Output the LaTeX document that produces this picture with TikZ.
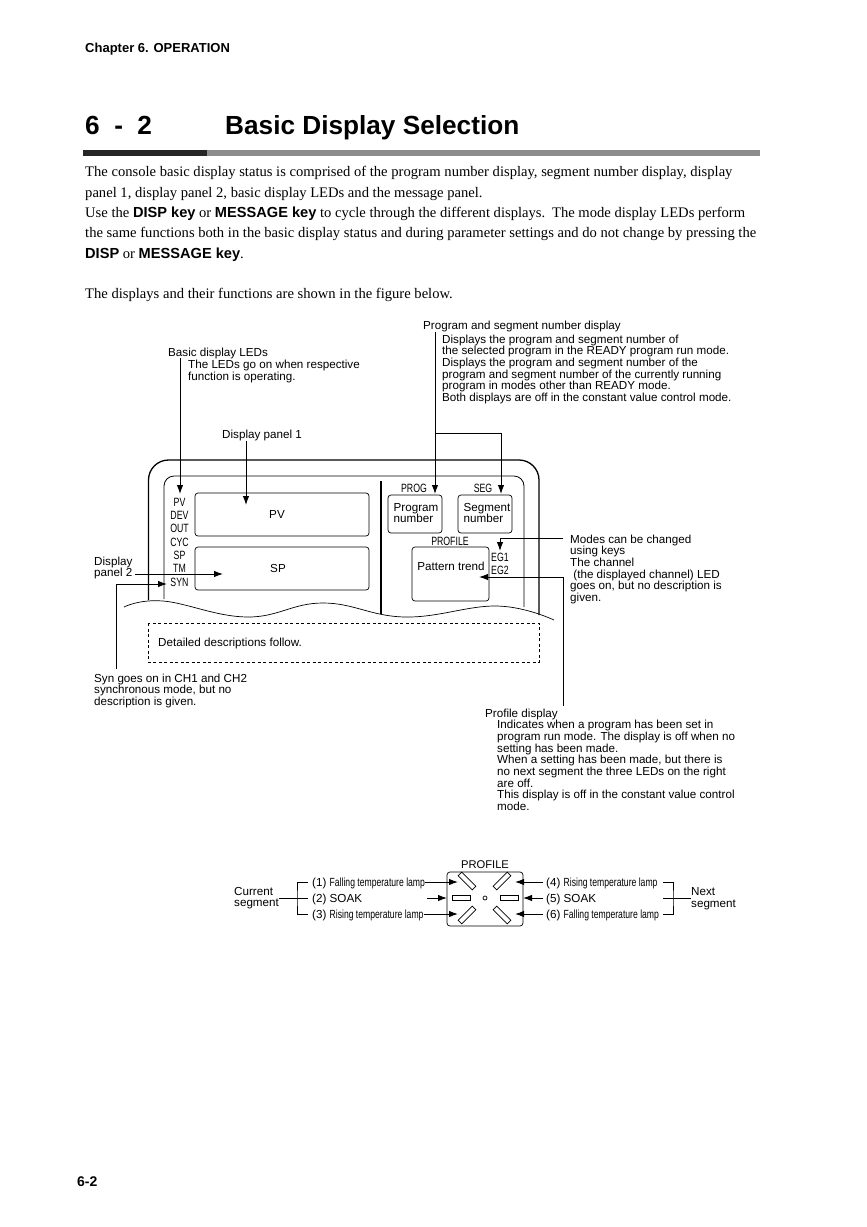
\documentclass[tikz,border=0pt]{standalone}
\usepackage{fontspec}
\setmainfont{Liberation Sans}
\newfontfamily\serifbody{Liberation Serif}
\newfontfamily\narrowsans[FakeStretch=0.73]{Liberation Sans}
\usetikzlibrary{arrows.meta}
\lineskiplimit=-20pt
\tikzset{
  lbl/.style={anchor=base west,inner sep=0,align=left,font=\fontsize{11.65}{11.7}\selectfont},
  mid/.style={inner sep=0,align=left,font=\fontsize{11.65}{11.7}\selectfont},
  tiny/.style={inner sep=0,font=\narrowsans\fontsize{12}{12}\selectfont},
  box/.style={draw,line width=.7pt,rounded corners=3pt},
  lamp/.style={draw,line width=.7pt,inner sep=0,minimum width=#1,minimum height=5pt},
  conn/.style={line width=1pt,-{Latex[length=9pt,width=6.5pt]}},
  plain/.style={line width=1pt},
}
\newcommand{\smalllamp}[1]{{\narrowsans\fontsize{11.8}{12}\selectfont #1}}
\begin{document}
\begin{tikzpicture}[x=1pt,y=-1pt]
\useasboundingbox (0,0) rectangle (867,1227);
\node[lbl,font=\bfseries\fontsize{13}{13}\selectfont] (chap) at (85,52.7) {Chapter 6. OPERATION};
\node[lbl,font=\bfseries\fontsize{26.2}{27}\selectfont] (secno) at (85,134.4) {6\hspace{14.5pt}-\hspace{14.5pt}2};
\node[lbl,font=\bfseries\fontsize{26.2}{27}\selectfont] (sectitle) at (225,134.4) {Basic Display Selection};
\fill[black!85] (83,150) rectangle (207,156);
\fill[black!45] (207,150) rectangle (760,156);
\node[anchor=north west,inner sep=0,align=left,font=\serifbody\fontsize{14.6}{20.3}\selectfont] (intro) at (85,166.5) {The console basic display status is comprised of the program number display, segment number display, display\\
panel 1, display panel 2, basic display LEDs and the message panel.\\
Use the {\rmfamily\bfseries DISP key} or {\rmfamily\bfseries MESSAGE key} to cycle through the different displays.\hspace{2pt} The mode display LEDs perform\\
the same functions both in the basic display status and during parameter settings and do not change by pressing the\\
{\rmfamily\bfseries DISP} or {\rmfamily\bfseries MESSAGE key}.\\[20.3pt]
The displays and their functions are shown in the figure below.};
% console
\draw[line width=1.3pt,rounded corners=20pt] (148.5,600)--(148.5,460)--(539,460)--(539,615);
\draw[line width=.8pt,rounded corners=10pt] (164,599)--(164,476)--(524,476)--(524,607);
\draw[line width=1.1pt] (381,481)--(381,614);
\draw[line width=.7pt] plot[smooth,tension=.7] coordinates {(124,607)(163,601)(247,617)(323,603)(405,617)(497,606)(554,620)};
\draw[line width=.7pt,dash pattern=on 3pt off 2.5pt] (148,623) rectangle (539,662);
\node[box,minimum width=174pt,minimum height=43pt,inner sep=0] (pvbox) at (282,514.5) {};
\node[box,minimum width=174pt,minimum height=43pt,inner sep=0] (spbox) at (282,568.5) {};
\node[mid] (pvtxt) at (277,514) {PV};
\node[mid] (sptxt) at (278,568) {SP};
\foreach \lab/\y in {PV/502,DEV/515.5,OUT/528.5,CYC/542,SP/555,TM/568.5,SYN/582}
  \node[tiny] (led\lab) at (179.5,\y) {\lab};
\node[box,minimum width=54pt,minimum height=38pt,inner sep=0] (progbox) at (415,514) {};
\node[box,minimum width=54pt,minimum height=38pt,inner sep=0] (segbox) at (485,514) {};
\node[box,minimum width=77pt,minimum height=54pt,inner sep=0] (patbox) at (450.5,574) {};
\node[mid] (progtxt) at (416,513) {Program\\number};
\node[mid] (segtxt) at (487,513) {Segment\\number};
\node[mid] (pattxt) at (451,566) {Pattern trend};
\node[tiny] (progtop) at (414,488) {PROG};
\node[tiny] (segtop) at (483,488) {SEG};
\node[tiny] (proftop) at (450,541) {PROFILE};
\node[tiny] (eg1) at (500,557) {EG1};
\node[tiny] (eg2) at (500,570) {EG2};
\node[lbl] (detail) at (158,646) {Detailed descriptions follow.};
% notes round the console
\node[lbl] (progseg) at (423,329.2) {Program and segment number display};
\node[lbl,anchor=north west] (progsegtxt) at (442,334.5) {Displays the program and segment number of\\the selected program in the READY program run mode.\\Displays the program and segment number of the\\program and segment number of the currently running\\program in modes other than READY mode.\\Both displays are off in the constant value control mode.};
\node[lbl] (ledhead) at (168,356.2) {Basic display LEDs};
\node[lbl,anchor=north west] (ledtxt) at (188,360) {The LEDs go on when respective\\function is operating.};
\node[lbl] (panel1) at (222,438.2) {Display panel 1};
\node[lbl,anchor=west] (panel2) at (94,568) {Display\\panel 2};
\node[lbl,anchor=north west] (modes) at (570,534.5) {Modes can be changed\\using keys\\The channel\\\ (the displayed channel) LED\\goes on, but no description is\\given.};
\node[lbl,anchor=north west] (syn) at (94,673.5) {Syn goes on in CH1 and CH2\\synchronous mode, but no\\description is given.};
\node[lbl] (profhead) at (485,717.2) {Profile display};
\node[lbl,anchor=north west] (proftxt) at (497,720) {Indicates when a program has been set in\\program run mode. The display is off when no\\setting has been made.\\When a setting has been made, but there is\\no next segment the three LEDs on the right\\are off.\\This display is off in the constant value control\\mode.};
\coordinate (ledstart) at (180,358);
\coordinate (ledtip) at (180,494);
\coordinate (p1start) at (246,441);
\coordinate (p1tip) at (246,505);
\coordinate (p2tip) at (223,574);
\coordinate (synstart) at (116,669);
\coordinate (syntip) at (167,584);
\coordinate (progstart) at (435,332);
\coordinate (progtip) at (435,494);
\coordinate (segtip) at (501,494);
\coordinate (modestart) at (563,538);
\coordinate (modetip) at (500,551);
\coordinate (trendstart) at (563,706);
\coordinate (trendtip) at (479,577);
\draw[conn] (ledstart)--(ledtip);
\draw[conn] (p1start)--(p1tip);
\draw[conn] (135,574)--(p2tip);
\draw[conn] (synstart)|-(syntip);
\draw[conn] (progstart)--(progtip);
\draw[conn] (435,433)-|(segtip);
\draw[conn] (modestart)-|(modetip);
\draw[conn] (trendstart)|-(trendtip);
% profile lamps
\node[inner sep=0,font=\fontsize{11.2}{12}\selectfont] (lamphead) at (485,865) {PROFILE};
\node[box,minimum width=76pt,minimum height=54pt,inner sep=0] (lamppanel) at (485,899) {};
\node[lamp=20pt,rotate=-45] (lamp1) at (467,881) {};
\node[lamp=18pt] (lamp2) at (461,898) {};
\node[lamp=20pt,rotate=45] (lamp3) at (467,915) {};
\node[lamp=20pt,rotate=45] (lamp4) at (502,881) {};
\node[lamp=18pt] (lamp5) at (509,898) {};
\node[lamp=20pt,rotate=-45] (lamp6) at (502,915) {};
\node[draw,circle,line width=.7pt,inner sep=0,minimum size=4pt] (lampdot) at (485,898) {};
\node[lbl] (cur1) at (312,886.2) {(1) \smalllamp{Falling temperature lamp}};
\node[lbl] (cur2) at (312,902.2) {(2) SOAK};
\node[lbl] (cur3) at (312,918.2) {(3) \smalllamp{Rising temperature lamp}};
\node[lbl] (nxt4) at (546,886.2) {(4) \smalllamp{Rising temperature lamp}};
\node[lbl] (nxt5) at (546,902.2) {(5) SOAK};
\node[lbl] (nxt6) at (546,918.2) {(6) \smalllamp{Falling temperature lamp}};
\node[lbl,anchor=west] (curseg) at (234,898) {Current\\segment};
\node[lbl,anchor=west] (nxtseg) at (691,898.5) {Next\\segment};
\coordinate (tip1) at (458,882);
\coordinate (tip2) at (447,898);
\coordinate (tip3) at (458,914);
\coordinate (tip4) at (515,882);
\coordinate (tip5) at (523,898);
\coordinate (tip6) at (515,914);
\coordinate (s2) at (427,898);
\coordinate (brl) at (297,898);
\coordinate (brr) at (673,898);
\draw[conn] (cur1.east |- tip1)--(tip1);
\draw[conn] (s2)--(tip2);
\draw[conn] (cur3.east |- tip3)--(tip3);
\draw[conn] (543,882)--(tip4);
\draw[conn] (543,898)--(tip5);
\draw[conn] (543,914)--(tip6);
\draw[plain] (308,882)-|(brl)|-(308,914);
\draw[plain] (curseg.east |- brl)--(308,898);
\draw[plain] (663,882)-|(brr)|-(663,914);
\draw[plain] (663,898)--(nxtseg.west |- brr);
\node[lbl,font=\bfseries\fontsize{14}{14}\selectfont] (pageno) at (77,1186) {6-2};
\end{tikzpicture}
\end{document}
